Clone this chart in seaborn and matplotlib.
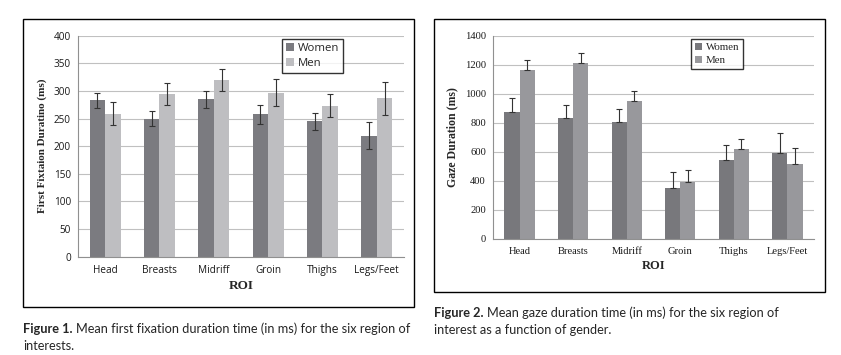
import pandas as pd
import numpy as np
import matplotlib
matplotlib.use("Agg")
import matplotlib.pyplot as plt
import seaborn as sns
from matplotlib.patches import Rectangle

rois = ["Head", "Breasts", "Midriff", "Groin", "Thighs", "Legs/Feet"]
genders = ["Women", "Men"]

# Figure 1: first fixation duration (ms)
fix_women = [283, 250, 285, 258, 245, 219]
fix_men = [259, 295, 320, 297, 273, 287]
fix_women_err = [14, 14, 15, 17, 15, 24]
fix_men_err = [21, 20, 20, 24, 21, 30]

# Figure 2: gaze duration (ms)
gaze_women = [875, 834, 806, 353, 545, 593]
gaze_men = [1164, 1212, 951, 394, 621, 518]
gaze_women_err = [94, 87, 92, 105, 101, 136]
gaze_men_err = [66, 66, 66, 80, 66, 107]

df1 = pd.DataFrame({"ROI": rois * 2,
                    "Gender": ["Women"] * 6 + ["Men"] * 6,
                    "value": fix_women + fix_men,
                    "err": fix_women_err + fix_men_err})
df2 = pd.DataFrame({"ROI": rois * 2,
                    "Gender": ["Women"] * 6 + ["Men"] * 6,
                    "value": gaze_women + gaze_men,
                    "err": gaze_women_err + gaze_men_err})

sns.set_style("white")
serif = ["Liberation Serif", "DejaVu Serif"]
sans = ["Open Sans", "DejaVu Sans"]

fig = plt.figure(figsize=(8.41, 3.55), dpi=100)
ax1 = fig.add_axes([0.0927, 0.2769, 0.3876, 0.6225])
ax2 = fig.add_axes([0.5862, 0.3268, 0.3817, 0.5726])

# frames around each figure
fig.patches.append(Rectangle((0.0274, 0.1352), 0.4649, 0.8113, transform=fig.transFigure,
                             fill=False, edgecolor="black", linewidth=1.0))
fig.patches.append(Rectangle((0.5161, 0.1775), 0.4649, 0.769, transform=fig.transFigure,
                             fill=False, edgecolor="black", linewidth=1.0))


def draw(ax, df, colors, ymax, ystep, plus_only, tickfont, ticksize, legfont, legsize, leganchor):
    sns.barplot(data=df, x="ROI", y="value", hue="Gender", hue_order=genders,
                order=rois, palette=colors, width=0.57, errorbar=None,
                saturation=1, linewidth=0, ax=ax, zorder=2)
    # error bars at the bar centres
    for bars, g in zip(ax.containers, genders):
        sub = df[df["Gender"] == g].set_index("ROI").loc[rois]
        xs = [b.get_x() + b.get_width() / 2 for b in bars]
        if plus_only:
            yerr = [np.zeros(len(sub)), sub["err"].values]
        else:
            yerr = sub["err"].values
        ax.errorbar(xs, sub["value"].values, yerr=yerr, fmt="none",
                    ecolor="#333333", elinewidth=0.8, capsize=2.5, capthick=0.8, zorder=3)
    ax.set_ylim(0, ymax)
    ax.set_xlim(-0.5, 5.5)
    ax.set_yticks(np.arange(0, ymax + 1, ystep))
    ax.yaxis.grid(True, color="#c0c0c0", linewidth=0.8, zorder=0)
    ax.set_axisbelow(True)
    for s in ["top", "right"]:
        ax.spines[s].set_visible(False)
    for s in ["left", "bottom"]:
        ax.spines[s].set_color("#909090")
        ax.spines[s].set_linewidth(0.8)
    ax.set_xticks(np.arange(-0.5, 6, 1), minor=True)
    ax.tick_params(axis="x", which="major", length=0, pad=6)
    ax.tick_params(axis="x", which="minor", length=3, color="#909090", width=0.8)
    ax.tick_params(axis="y", length=3, color="#909090", width=0.8, pad=2)
    for lab in ax.get_xticklabels() + ax.get_yticklabels():
        lab.set_fontfamily(tickfont)
        lab.set_fontsize(ticksize)
        lab.set_color("#1a1a1a")
    leg = ax.legend(loc="upper left", bbox_to_anchor=leganchor, frameon=True,
                    fancybox=False, edgecolor="black", handlelength=0.7, handleheight=0.7,
                    handletextpad=0.3, borderpad=0.35, labelspacing=0.3,
                    prop={"family": legfont, "size": legsize})
    leg.get_frame().set_linewidth(1.0)
    leg.set_title(None)


draw(ax1, df1, ["#7b7b80", "#bebec1"], 400, 50, False, sans, 7.2, sans, 8.2, (0.61, 1.01))
draw(ax2, df2, ["#78787c", "#98989c"], 1400, 200, True, serif, 7.6, serif, 7.8, (0.6, 1.01))

ax1.set_xlabel("ROI", fontfamily=serif, fontweight="bold", fontsize=9.5, labelpad=3)
ax1.set_ylabel("First Fixtaion Duratino (ms)", fontfamily=serif, fontweight="bold",
               fontsize=8, labelpad=5)
ax2.set_xlabel("ROI", fontfamily=serif, fontweight="bold", fontsize=9, labelpad=3)
ax2.set_ylabel("Gaze Duration (ms)", fontfamily=serif, fontweight="bold",
               fontsize=8.5, labelpad=5)

cap = ["Lato", "DejaVu Sans"]
capsize = 9.2
renderer = fig.canvas.get_renderer()


def caption(x0, y1, head, rest1, line2):
    t = fig.text(x0, y1, head, fontfamily=cap, fontweight="bold", fontsize=capsize, va="center")
    bb = t.get_window_extent(renderer=renderer)
    fig.text(bb.x1 / fig.bbox.width + 0.004, y1, rest1, fontfamily=cap,
             fontsize=capsize, va="center")
    fig.text(x0, y1 - 17 / 355, line2, fontfamily=cap, fontsize=capsize, va="center")


caption(0.0274, 1 - 329 / 355, "Figure 1.",
        "Mean first fixation duration time (in ms) for the six region of", "interests.")
caption(0.5161, 1 - 313 / 355, "Figure 2.",
        "Mean gaze duration time (in ms) for the six region of", "interest as a function of gender.")

fig.savefig("out.png", dpi=100)
